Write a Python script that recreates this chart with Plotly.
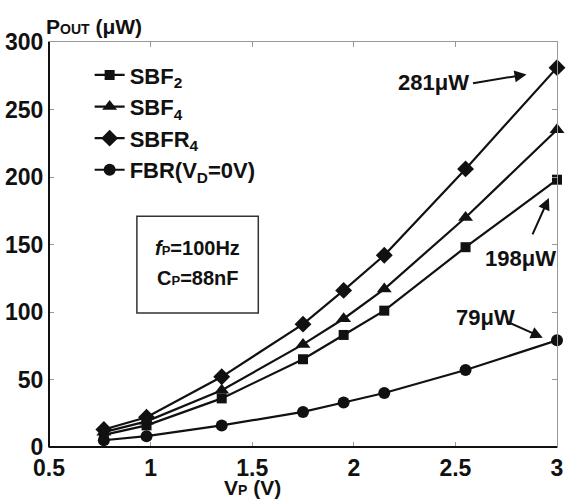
import plotly.graph_objects as go

vp = [0.77, 0.98, 1.35, 1.75, 1.95, 2.15, 2.55, 3.0]
sbf2 = [9, 16, 36, 65, 83, 101, 148, 198]
sbf4 = [11, 19, 42, 76, 95, 117, 170, 235]
sbfr4 = [13, 22, 52, 91, 116, 142, 206, 281]
fbr = [5, 8, 16, 26, 33, 40, 57, 79]

names = ["SBF<sub>2</sub>", "SBF<sub>4</sub>", "SBFR<sub>4</sub>", "FBR(V<sub>D</sub>=0V)"]
series = [sbf2, sbf4, sbfr4, fbr]
symbols = ["square", "triangle-up", "diamond", "circle"]
sizes = [10, 13, 13, 12]

FONT = "Liberation Sans, Arial, sans-serif"
fig = go.Figure()
for n, s, sym, sz in zip(names, series, symbols, sizes):
    fig.add_trace(go.Scatter(x=vp, y=s, name=n, mode="lines+markers",
                             line=dict(color="#111", width=2.2),
                             marker=dict(symbol=sym, size=sz, color="#111"),
                             cliponaxis=False))

axis_common = dict(showgrid=False, zeroline=False, showline=True, linecolor="#999",
                   linewidth=1, mirror="ticks", ticks="inside", ticklen=5, tickcolor="#999",
                   ticklabeloverflow="allow",
                   tickfont=dict(family=FONT, size=23, color="#111", weight="bold"))
fig.update_xaxes(range=[0.5, 3], tickvals=[0.5, 1, 1.5, 2, 2.5, 3],
                 ticktext=["0.5", "1", "1.5", "2", "2.5", "3"], **axis_common)
fig.update_yaxes(range=[0, 300], tickvals=[0, 50, 100, 150, 200, 250, 300], **axis_common)

ann = []
ann.append(dict(xref="paper", yref="paper", x=-0.01, y=1.0, yshift=2, xanchor="left", yanchor="bottom",
                text="P<span style='font-size:14px'>OUT</span> (μW)", showarrow=False,
                font=dict(family=FONT, size=21, color="#111", weight="bold")))
ann.append(dict(xref="paper", yref="paper", x=0.4, y=0, yshift=-54, xanchor="center", yanchor="bottom",
                text="V<span style='font-size:14px'>P</span> (V)", showarrow=False,
                font=dict(family=FONT, size=21, color="#111", weight="bold")))
# box text
ann.append(dict(xref="paper", yref="paper", x=0.292, y=0.491, xanchor="center", yanchor="middle",
                text="<i>f</i><span style='font-size:13px'>P</span>=100Hz", showarrow=False,
                font=dict(family=FONT, size=20, color="#111", weight="bold")))
ann.append(dict(xref="paper", yref="paper", x=0.292, y=0.417, xanchor="center", yanchor="middle",
                text="C<span style='font-size:13px'>P</span>=88nF", showarrow=False,
                font=dict(family=FONT, size=20, color="#111", weight="bold")))
# value labels
for txt, x, y in [("281μW", 2.39, 270), ("198μW", 2.82, 140), ("79μW", 2.65, 96)]:
    ann.append(dict(x=x, y=y, text=txt, showarrow=False, xanchor="center", yanchor="middle",
                    font=dict(family=FONT, size=22, color="#111", weight="bold")))
# arrows
for x, y, ax, ay in [(2.85, 276, -55, 9), (2.96, 184.5, -17, 38), (2.93, 81, -38, -17)]:
    ann.append(dict(x=x, y=y, ax=ax, ay=ay, text="", showarrow=True, arrowhead=2,
                    arrowsize=1.2, arrowwidth=2, arrowcolor="#111"))

shapes = [
    dict(type="rect", xref="paper", yref="paper", x0=0.173, x1=0.412, y0=0.331, y1=0.570,
         line=dict(color="#333", width=1.5)),
    dict(type="line", xref="paper", yref="paper", x0=0, x1=0, y0=0, y1=1, line=dict(color="#111", width=2)),
    dict(type="line", xref="paper", yref="paper", x0=0, x1=1, y0=0, y1=0, line=dict(color="#111", width=2)),
]

fig.update_layout(width=568, height=501, margin=dict(l=43, r=5, t=42, b=54),
                  plot_bgcolor="white", paper_bgcolor="white",
                  annotations=ann, shapes=shapes,
                  legend=dict(x=0.08, y=0.97, xanchor="left", yanchor="top",
                              bgcolor="rgba(0,0,0,0)", tracegroupgap=0, itemwidth=30,
                              font=dict(family=FONT, size=22, color="#111", weight="bold")))
fig.write_html("out.html")
